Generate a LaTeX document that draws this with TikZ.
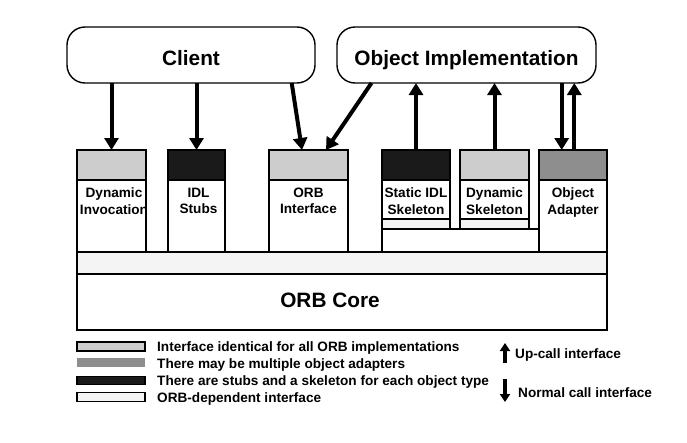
\documentclass[tikz,border=0pt]{standalone}
\usepackage{fontspec}
\setmainfont{Liberation Sans}
\usetikzlibrary{fit}
\usetikzlibrary{calc}
\usetikzlibrary{arrows.meta}
\definecolor{ifacegray}{HTML}{CDCDCD}
\definecolor{adaptgray}{HTML}{8E8E8E}
\definecolor{stubblack}{HTML}{1A1A1A}
\definecolor{orbdepgray}{HTML}{F4F4F4}
\newcommand{\orbclxa}{77}
\newcommand{\orbclxb}{146}
\newcommand{\orbclxc}{168}
\newcommand{\orbclxd}{225}
\newcommand{\orbclxe}{269}
\newcommand{\orbclxf}{348}
\newcommand{\orbclxg}{382}
\newcommand{\orbclxh}{450}
\newcommand{\orbclxi}{460}
\newcommand{\orbclxj}{529}
\newcommand{\orbclxk}{539}
\newcommand{\orbclxl}{607}
\newcommand{\orbclya}{150}
\newcommand{\orbclyb}{180}
\newcommand{\orbclyc}{219}
\newcommand{\orbclyd}{229}
\newcommand{\orbclye}{252}
\newcommand{\orbclyf}{274}
\newcommand{\orbclyg}{330}
\newcommand{\orblbly}{187.5}
\newcommand{\bigorbfont}{\fontsize{20.8}{24}\bfseries}
\newcommand{\smallorbfont}{\fontsize{13.6}{16.5}\bfseries}

\begin{document}
\begin{tikzpicture}[x=1pt,y=-1pt,
    orbbox/.style={draw,line width=1.2pt,inner sep=0pt,outer sep=0pt},
    patband/.style={draw,line width=1.2pt},
    appbox/.style={draw,line width=1.4pt,rounded corners=18pt,inner sep=0pt,
      outer sep=0pt,text height=20pt,text depth=0pt,font=\bigorbfont,
      minimum height=56pt},
    boxlabel/.style={anchor=north,align=center,inner sep=0pt,font=\smallorbfont},
    legtext/.style={anchor=base west,inner sep=0pt,font=\smallorbfont},
    legbox/.style={inner sep=0pt,outer sep=0pt,minimum width=68pt,minimum height=8.5pt},
    callarrow/.style={line width=4pt,-{Triangle[length=12pt,width=14pt]}},
    legarrow/.style={line width=3.5pt,-{Triangle[length=8pt,width=10pt]}}]
    \useasboundingbox (0,0) rectangle (687,442);
    \fill[white] (0,0) rectangle (687,442);

    \node[appbox,minimum width=248pt] (client) at (191,55) {Client};
    \node[appbox,minimum width=259pt] (objimpl) at (466.5,55) {Object Implementation};

    \node[orbbox,fit={(\orbclxa,\orbclya) (\orbclxb,\orbclye)}] (dinv) {};
    \draw[patband,fill=ifacegray] (dinv.north west) rectangle (\orbclxb,\orbclyb);
    \node[boxlabel] (dinvlbl) at (114,\orblbly) {Dynamic\\Invocation};

    \node[orbbox,fit={(\orbclxc,\orbclya) (\orbclxd,\orbclye)}] (stubs) {};
    \draw[patband,fill=stubblack] (stubs.north west) rectangle (\orbclxd,\orbclyb);
    \node[boxlabel] (stubslbl) at (198.5,\orblbly) {IDL\\Stubs};

    \node[orbbox,fit={(\orbclxe,\orbclya) (\orbclxf,\orbclye)}] (orbif) {};
    \draw[patband,fill=ifacegray] (orbif.north west) rectangle (\orbclxf,\orbclyb);
    \node[boxlabel] (orbiflbl) at (orbif.north |- 0,\orblbly) {ORB\\Interface};

    \node[orbbox,fit={(\orbclxg,\orbclya) (\orbclxh,\orbclyd)}] (skel) {};
    \draw[patband,fill=stubblack] (skel.north west) rectangle (\orbclxh,\orbclyb);
    \draw[patband,fill=orbdepgray] (\orbclxg,\orbclyc) rectangle (skel.south east);
    \node[boxlabel] (skellbl) at (skel.north |- 0,\orblbly) {Static IDL\\Skeleton};

    \node[orbbox,fit={(\orbclxi,\orbclya) (\orbclxj,\orbclyd)}] (dynskel) {};
    \draw[patband,fill=ifacegray] (dynskel.north west) rectangle (\orbclxj,\orbclyb);
    \draw[patband,fill=orbdepgray] (\orbclxi,\orbclyc) rectangle (dynskel.south east);
    \node[boxlabel] (dynskellbl) at (dynskel.north |- 0,\orblbly) {Dynamic\\Skeleton};

    \node[orbbox,fit={(\orbclxk,\orbclya) (\orbclxl,\orbclye)}] (adapter) {};
    \draw[patband,fill=adaptgray] (adapter.north west) rectangle (\orbclxl,\orbclyb);
    \node[boxlabel] (adapterlbl) at (adapter.north |- 0,\orblbly) {Object\\Adapter};

    \draw[patband] (\orbclxg,\orbclyd) rectangle (\orbclxk,\orbclye);

    \node[orbbox,line width=2pt,fit={(\orbclxa,\orbclye) (\orbclxl,\orbclyg)}] (core) {};
    \draw[patband,fill=orbdepgray] (\orbclxa,\orbclye) rectangle (\orbclxl,\orbclyf);
    \draw[line width=2pt] (\orbclxa,\orbclye) -- (\orbclxl,\orbclye);
    \node[anchor=base,inner sep=0pt,font=\bigorbfont] (corelbl) at (330,307) {ORB Core};

    \draw[callarrow] (dinv.north |- client.south) -- (dinv.north);
    \draw[callarrow] (stubs.north |- client.south) -- (stubs.north);
    \draw[callarrow] ([xshift=100.7pt]client.south) -- ([xshift=-6.5pt]orbif.north);
    \draw[callarrow] ([xshift=-95pt]objimpl.south) -- ([xshift=17.5pt]orbif.north);
    \draw[callarrow] (skel.north) -- (skel.north |- objimpl.south);
    \draw[callarrow] (dynskel.north) -- (dynskel.north |- objimpl.south);
    \draw[callarrow] ([xshift=-11.3pt]adapter.north |- objimpl.south)
      -- ([xshift=-11.3pt]adapter.north);
    \draw[callarrow] ([xshift=1.3pt]adapter.north)
      -- ([xshift=1.3pt]adapter.north |- objimpl.south);

    \node[legbox,draw,line width=2pt,fill=ifacegray] (legiface) at (111,346.5) {};
    \node[legbox,fill=adaptgray] (legadapt) at (111,362.5) {};
    \node[legbox,draw,line width=1.2pt,fill=stubblack] (legstub) at (111,380.5) {};
    \node[legbox,draw,line width=1.4pt,fill=orbdepgray] (legdep) at (111,397) {};
    \node[legtext] (legifacetxt) at (157,351) {Interface identical for all ORB implementations};
    \node[legtext] (legadapttxt) at (157,368) {There may be multiple object adapters};
    \node[legtext] (legstubtxt) at (157,385) {There are stubs and a skeleton for each object type};
    \node[legtext] (legdeptxt) at (157,402) {ORB-dependent interface};

    \coordinate (upfoot) at (505,363);
    \coordinate (uptip) at (505,343);
    \coordinate (downfoot) at (505,379);
    \coordinate (downtip) at (505,402);
    \draw[legarrow] (upfoot) -- (uptip);
    \draw[legarrow] (downfoot) -- (downtip);
    \node[legtext] (uptxt) at (515,358.5) {Up-call interface};
    \node[legtext] (downtxt) at (518,397.5) {Normal call interface};
\end{tikzpicture}
\end{document}
